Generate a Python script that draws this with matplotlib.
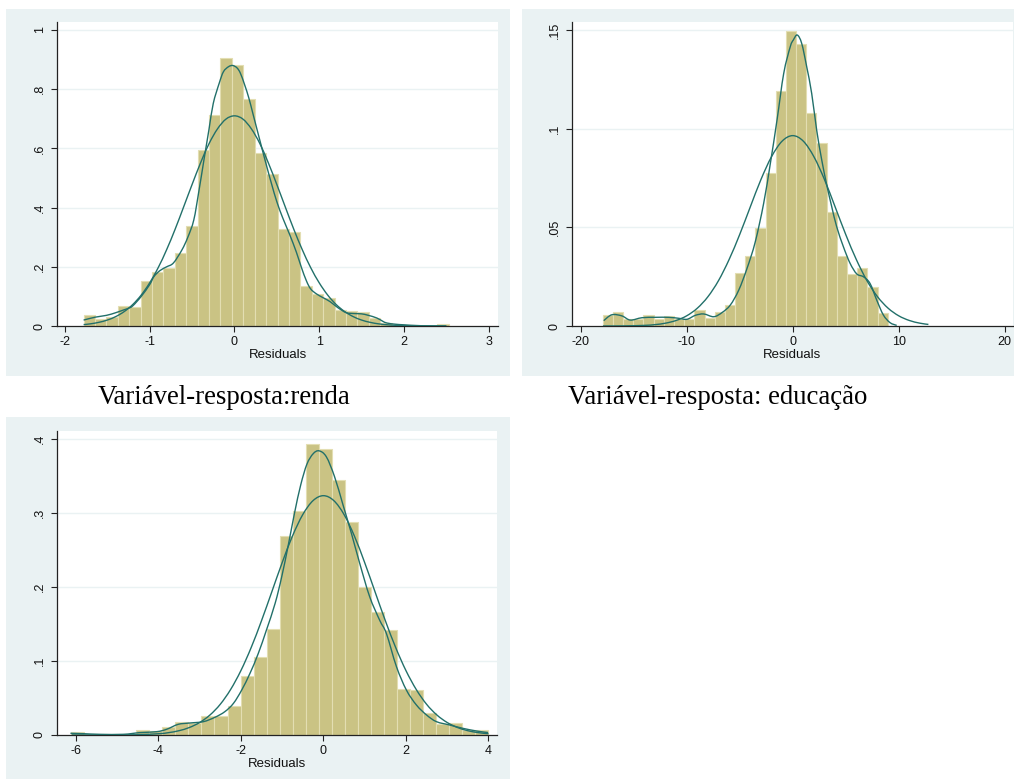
import numpy as np
import matplotlib
matplotlib.use("Agg")
import matplotlib.pyplot as plt
from matplotlib.patches import Rectangle, PathPatch
from matplotlib.path import Path

# ---- panel 1: renda ----
renda_start = -1.78
renda_width = 0.1346
renda_hist = [0.037, 0.025, 0.032, 0.068, 0.063, 0.151, 0.184, 0.197, 0.245, 0.338,
              0.595, 0.712, 0.907, 0.882, 0.768, 0.584, 0.512, 0.327, 0.318, 0.135,
              0.107, 0.095, 0.054, 0.051, 0.046, 0.028, 0.010, 0.005, 0.002, 0.0,
              0.0, 0.006]
renda_kx = [-1.78, -1.64, -1.51, -1.40, -1.30, -1.25, -1.20, -1.10, -1.00, -0.95,
            -0.88, -0.80, -0.72, -0.62, -0.55, -0.48, -0.42, -0.36, -0.30, -0.25,
            -0.18, -0.13, -0.07, -0.02, 0.03, 0.07, 0.12, 0.17, 0.22, 0.27,
            0.32, 0.38, 0.44, 0.50, 0.57, 0.65, 0.73, 0.79, 0.85, 0.90,
            0.97, 1.05, 1.13, 1.22, 1.32, 1.42, 1.50, 1.58, 1.68, 1.75,
            1.80, 1.90, 2.00, 2.20, 2.50]
renda_ky = [0.020, 0.030, 0.036, 0.045, 0.055, 0.060, 0.068, 0.100, 0.140, 0.167,
            0.187, 0.200, 0.213, 0.257, 0.300, 0.358, 0.455, 0.561, 0.665, 0.752,
            0.820, 0.859, 0.876, 0.880, 0.872, 0.854, 0.815, 0.770, 0.715, 0.660,
            0.605, 0.540, 0.478, 0.420, 0.365, 0.310, 0.250, 0.198, 0.152, 0.125,
            0.108, 0.095, 0.082, 0.062, 0.045, 0.042, 0.041, 0.036, 0.027, 0.016,
            0.010, 0.006, 0.004, 0.001, 0.0]
renda_nx = [-1.78, -1.7, -1.6, -1.5, -1.4, -1.3, -1.2, -1.1, -1.0, -0.9,
            -0.8, -0.7, -0.6, -0.5, -0.4, -0.3, -0.2, -0.1, 0.0, 0.1,
            0.2, 0.3, 0.4, 0.5, 0.6, 0.7, 0.8, 0.9, 1.0, 1.1,
            1.2, 1.3, 1.4, 1.5, 1.6, 1.7, 1.8, 1.9, 2.0, 2.2, 2.5]
renda_ny = [0.0047, 0.0073, 0.0124, 0.0201, 0.0319, 0.0489, 0.0726, 0.1046, 0.146, 0.197,
            0.258, 0.327, 0.402, 0.478, 0.551, 0.616, 0.666, 0.699, 0.710, 0.699,
            0.666, 0.616, 0.551, 0.478, 0.402, 0.327, 0.258, 0.197, 0.146, 0.1046,
            0.0726, 0.0489, 0.0319, 0.0201, 0.0124, 0.0073, 0.0042, 0.0023, 0.0013, 0.0003, 0.0]

# ---- panel 2: educacao ----
educ_start = -17.92
educ_width = 0.96
educ_hist = [0.0054, 0.0069, 0.0034, 0.0036, 0.0054, 0.0034, 0.0049, 0.0035, 0.0037, 0.0081,
             0.0042, 0.0071, 0.0105, 0.0267, 0.0355, 0.0495, 0.0774, 0.119, 0.1497, 0.1432,
             0.108, 0.0927, 0.0578, 0.0355, 0.0262, 0.0294, 0.0198, 0.0064]
educ_kx = [-17.83, -17.06, -16.10, -15.32, -14.22, -12.96, -11.70, -10.75, -9.97, -9.19,
           -8.40, -7.45, -6.67, -5.89, -5.09, -4.31, -3.53, -2.74, -2.11, -1.48,
           -0.85, -0.23, 0.06, 0.43, 0.85, 1.32, 1.79, 2.26, 2.74, 3.21,
           3.68, 4.15, 4.78, 5.41, 6.04, 6.66, 7.29, 7.92, 8.55, 9.18, 9.81]
educ_ky = [0.0027, 0.0057, 0.0051, 0.0030, 0.0042, 0.0044, 0.0044, 0.0039, 0.0034, 0.0054,
           0.0061, 0.0047, 0.0068, 0.0106, 0.0182, 0.0292, 0.0427, 0.0622, 0.0824, 0.1044,
           0.128, 0.1416, 0.145, 0.1475, 0.1432, 0.1314, 0.1179, 0.0993, 0.0841, 0.0715,
           0.0605, 0.0503, 0.0402, 0.0318, 0.0264, 0.0250, 0.0216, 0.0132, 0.0056, 0.0017, 0.0003]
educ_nx = [-17.9, -16, -14, -13, -12, -11, -10, -9, -8, -7, -6, -5, -4, -3, -2, -1, 0,
           1, 2, 3, 4, 5, 6, 7, 8, 9, 10, 11, 12, 12.8]
educ_ny = [0.00001, 0.00005, 0.00031, 0.00069, 0.00143, 0.0028, 0.00517, 0.00902, 0.01484,
           0.0230, 0.0337, 0.0464, 0.0604, 0.0742, 0.0858, 0.0937, 0.0965,
           0.0937, 0.0858, 0.0742, 0.0604, 0.0464, 0.0337, 0.0230, 0.01484, 0.00902,
           0.00517, 0.0028, 0.00143, 0.0008]

# ---- panel 3 ----
p3_start = -6.116
p3_width = 0.316
p3_hist = [0.0036, 0.002, 0.001, 0.001, 0.002, 0.0063, 0.005, 0.0108, 0.0171, 0.0167,
           0.0261, 0.0257, 0.0396, 0.0797, 0.105, 0.143, 0.269, 0.303, 0.393, 0.3865,
           0.3446, 0.2878, 0.200, 0.1658, 0.1419, 0.0622, 0.0608, 0.0293, 0.0149, 0.0158,
           0.0068, 0.0068]
p3_kx = [-6.13, -5.82, -5.42, -4.85, -4.45, -4.04, -3.80, -3.52, -3.24, -2.91,
         -2.63, -2.39, -2.18, -1.98, -1.78, -1.58, -1.38, -1.17, -1.01, -0.85,
         -0.70, -0.55, -0.40, -0.25, -0.107, 0.07, 0.27, 0.474, 0.678, 0.879,
         1.12, 1.364, 1.527, 1.77, 2.01, 2.254, 2.50, 2.74, 3.06, 3.38, 3.71, 3.99]
p3_ky = [0.0023, 0.0018, 0.0009, 0.0009, 0.0032, 0.0045, 0.0077, 0.0144, 0.0162, 0.018,
         0.0239, 0.0315, 0.0428, 0.0608, 0.0833, 0.110, 0.142, 0.178, 0.214, 0.257,
         0.300, 0.338, 0.366, 0.380, 0.384, 0.376, 0.349, 0.311, 0.2725, 0.232,
         0.187, 0.155, 0.137, 0.0923, 0.0608, 0.0405, 0.027, 0.018, 0.0135, 0.009, 0.0054, 0.0032]
p3_nx = [-6.1, -5.5, -5.0, -4.5, -4.0, -3.75, -3.5, -3.25, -3.0, -2.75, -2.5, -2.25, -2.0,
         -1.75, -1.5, -1.25, -1.0, -0.75, -0.5, -0.25, 0.0, 0.25, 0.5, 0.75, 1.0,
         1.25, 1.5, 1.75, 2.0, 2.25, 2.5, 2.75, 3.0, 3.25, 3.5, 3.75, 4.0]
p3_ny = [0.0, 0.00001, 0.0001, 0.0004, 0.0017, 0.0032, 0.0058, 0.0101, 0.01685, 0.0270,
         0.0415, 0.0614, 0.0870, 0.1183, 0.1545, 0.1936, 0.2329, 0.2689, 0.2979, 0.3168,
         0.3234, 0.3168, 0.2979, 0.2689, 0.2329, 0.1936, 0.1545, 0.1183, 0.0870, 0.0614,
         0.0415, 0.0270, 0.01685, 0.0101, 0.0058, 0.0032, 0.0017]

captions = ["Variável-resposta:renda", "Variável-resposta: educação"]

BG = "#eaf2f3"
BAR = "#cac384"
BAR_EDGE = "#e3deb2"
LINE = "#22706a"

W, H = 1014, 780
fig = plt.figure(figsize=(W / 100, H / 100), dpi=100)
fig.patch.set_facecolor("white")


def px_box(x0, y0, x1, y1):
    # pixel box (top-left origin) -> figure fraction [l, b, w, h]
    return [x0 / W, 1 - y1 / H, (x1 - x0) / W, (y1 - y0) / H]


def smooth_line(ax, xs, ys, **kw):
    # draw a smooth curve through the read points (catmull-rom as cubic bezier)
    p = np.column_stack([xs, ys]).astype(float)
    n = len(p)
    verts = [p[0]]
    codes = [Path.MOVETO]
    for i in range(n - 1):
        p0 = p[max(i - 1, 0)]
        p1 = p[i]
        p2 = p[i + 1]
        p3 = p[min(i + 2, n - 1)]
        c1 = p1 + (p2 - p0) / 6.0
        c2 = p2 - (p3 - p1) / 6.0
        verts += [c1, c2, p2]
        codes += [Path.CURVE4] * 3
    ax.add_patch(PathPatch(Path(verts, codes), fill=False, **kw))


for box in [(6, 9, 510, 376), (522, 9, 1014, 376), (6, 417, 510, 779)]:
    l, b, w, h = px_box(*box)
    fig.add_artist(Rectangle((l, b), w, h, transform=fig.transFigure,
                             facecolor=BG, edgecolor="none", zorder=-5))


def panel(rect, start, width, hist, kx, ky, nx, ny, xlim, ylim, xticks, yticks, ylabels):
    ax = fig.add_axes(px_box(*rect))
    ax.set_facecolor("white")
    edges = start + width * np.arange(len(hist))
    ax.bar(edges, hist, width=width, align="edge", color=BAR,
           edgecolor=BAR_EDGE, linewidth=0.8, zorder=2)
    smooth_line(ax, nx, ny, edgecolor=LINE, lw=1.0, zorder=3)
    smooth_line(ax, kx, ky, edgecolor=LINE, lw=1.0, zorder=3)
    ax.set_xlim(*xlim)
    ax.set_ylim(*ylim)
    ax.set_xticks(xticks)
    ax.set_xticklabels([str(t) for t in xticks], fontsize=9, family="Liberation Sans")
    ax.set_yticks(yticks)
    ax.set_yticklabels(ylabels, fontsize=9, family="Liberation Sans",
                       rotation=90, va="center")
    for y in yticks[1:]:
        ax.axhline(y, color=BG, lw=1.0, zorder=1)
    for s in ["top", "right"]:
        ax.spines[s].set_visible(False)
    for s in ["left", "bottom"]:
        ax.spines[s].set_color("#222222")
        ax.spines[s].set_linewidth(0.9)
    ax.tick_params(direction="out", length=4, width=0.8, color="#222222",
                   labelcolor="#111111", pad=3)
    ax.tick_params(axis="y", pad=4)
    ax.set_xlabel("Residuals", fontsize=9.5, family="Liberation Sans",
                  color="#111111", labelpad=1)
    return ax


panel((57, 22, 498, 326), renda_start, renda_width, renda_hist, renda_kx, renda_ky,
      renda_nx, renda_ny, (-2.094, 3.11), (0, 1.027), [-2, -1, 0, 1, 2, 3],
      [0, 0.2, 0.4, 0.6, 0.8, 1.0], ["0", ".2", ".4", ".6", ".8", "1"])
panel((572, 22, 1013, 326), educ_start, educ_width, educ_hist, educ_kx, educ_ky,
      educ_nx, educ_ny, (-20.82, 20.78), (0, 0.1541), [-20, -10, 0, 10, 20],
      [0, 0.05, 0.1, 0.15], ["0", ".05", ".1", ".15"])
panel((57, 431, 497, 735), p3_start, p3_width, p3_hist, p3_kx, p3_ky,
      p3_nx, p3_ny, (-6.456, 4.206), (0, 0.4108), [-6, -4, -2, 0, 2, 4],
      [0, 0.1, 0.2, 0.3, 0.4], ["0", ".1", ".2", ".3", ".4"])

fig.text(224 / W, 1 - 398 / H, captions[0], ha="center", va="center",
         fontsize=19.3, family="Liberation Serif", color="black")
fig.text(718 / W, 1 - 398 / H, captions[1], ha="center", va="center",
         fontsize=19.3, family="Liberation Serif", color="black")

fig.savefig("out.png", dpi=100)
